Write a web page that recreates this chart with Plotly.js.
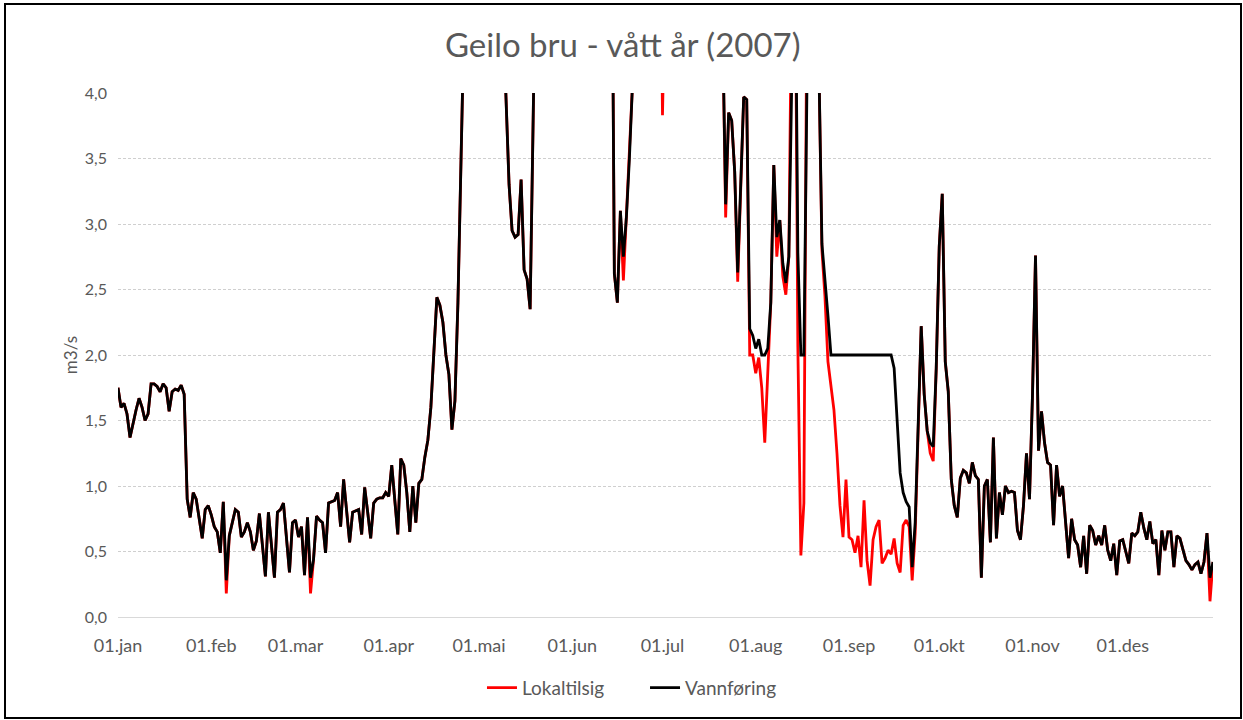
<!DOCTYPE html>
<html>
<head>
<meta charset="utf-8">
<script src="https://cdn.plot.ly/plotly-3.0.1.min.js"></script>
<style>
  html, body { margin:0; padding:0; background:#fff; }
  #plot { width:1243px; height:720px; }
  #frame { position:absolute; left:4px; top:3px; width:1234px; height:712px; border:2px solid #000; pointer-events:none; }
</style>
</head>
<body>
<div id="plot"></div>
<div id="frame"></div>
<script>
// month ticks
const monthStarts = ['2007-01-01','2007-02-01','2007-03-01','2007-04-01','2007-05-01','2007-06-01',
                     '2007-07-01','2007-08-01','2007-09-01','2007-10-01','2007-11-01','2007-12-01'];
const monthLabels = ['01.jan','01.feb','01.mar','01.apr','01.mai','01.jun',
                     '01.jul','01.aug','01.sep','01.okt','01.nov','01.des'];

// daily values 2007 (m3/s), one row per month; values above 4 are off the chart
const vannforing = [
  1.75,1.60,1.63,1.55,1.37,1.48,1.58,1.67,1.60,1.50,1.55,1.78,1.78,1.76,1.72,1.78,1.75,1.57,1.72,1.74,1.73,1.77,1.70,0.90,0.76,0.95,0.90,0.75,0.60,0.82,0.85,
  0.78,0.69,0.65,0.49,0.88,0.28,0.62,0.72,0.82,0.80,0.61,0.65,0.72,0.65,0.51,0.58,0.79,0.55,0.31,0.80,0.55,0.30,0.80,0.82,0.87,0.60,0.34,0.72,
  0.74,0.61,0.69,0.32,0.76,0.30,0.44,0.77,0.74,0.72,0.49,0.87,0.88,0.89,0.95,0.69,1.05,0.80,0.57,0.80,0.81,0.82,0.63,0.99,0.80,0.60,0.87,0.90,0.91,0.91,0.95,
  0.92,1.16,0.90,0.63,1.21,1.16,0.95,0.65,1.00,0.72,1.02,1.05,1.22,1.35,1.60,2.00,2.44,2.38,2.25,2.00,1.85,1.43,1.65,2.40,3.50,6.2,7.4,8.3,9.1,9.6,
  9.8,9.4,8.8,8.0,7.2,6.5,5.8,5.2,4.6,3.95,3.30,2.95,2.90,2.92,3.34,2.65,2.58,2.35,3.60,6.8,8.5,9.7,10.4,11.0,10.6,9.8,10.2,11.5,12.3,11.8,10.9,
  10.5,11.2,12.0,11.4,10.1,9.3,8.6,8.0,7.6,7.2,6.9,6.8,7.0,6.0,2.62,2.40,3.10,2.75,3.05,3.50,4.05,6.5,7.8,8.9,9.6,10.4,9.9,8.7,7.4,6.0,
  5.3,6.1,7.2,8.4,9.5,10.3,11.0,10.6,9.8,9.1,8.3,7.6,7.0,6.6,6.2,6.8,7.5,7.9,7.1,6.0,4.5,3.15,3.85,3.79,3.40,2.63,3.30,3.97,3.95,2.20,2.15,
  2.05,2.12,2.00,2.00,2.05,2.40,3.45,2.90,3.03,2.70,2.55,2.75,5.0,5.5,2.78,2.00,2.00,4.8,7.0,8.0,6.2,4.2,2.85,2.60,2.30,2.00,2.00,2.00,2.00,2.00,2.00,
  2.00,2.00,2.00,2.00,2.00,2.00,2.00,2.00,2.00,2.00,2.00,2.00,2.00,2.00,2.00,1.90,1.45,1.10,0.95,0.88,0.84,0.38,0.72,1.40,2.22,1.70,1.42,1.33,1.30,1.90,
  2.83,3.23,1.95,1.72,1.05,0.85,0.76,1.06,1.12,1.10,1.02,1.18,1.08,1.05,0.30,1.00,1.05,0.57,1.37,0.60,0.95,0.78,1.00,0.95,0.96,0.95,0.66,0.59,0.85,1.25,0.90,
  1.70,2.76,1.27,1.57,1.33,1.18,1.16,0.70,1.16,0.92,1.00,0.75,0.45,0.75,0.59,0.55,0.38,0.62,0.33,0.70,0.66,0.55,0.62,0.55,0.70,0.51,0.43,0.56,0.32,0.58,
  0.59,0.50,0.41,0.64,0.62,0.65,0.80,0.68,0.59,0.73,0.56,0.59,0.32,0.66,0.51,0.65,0.65,0.38,0.62,0.60,0.51,0.43,0.40,0.36,0.40,0.42,0.33,0.42,0.64,0.30,0.42
];

const lokaltilsig = [
  1.75,1.60,1.63,1.55,1.37,1.48,1.58,1.67,1.60,1.50,1.55,1.78,1.78,1.76,1.72,1.78,1.75,1.57,1.72,1.74,1.73,1.77,1.70,0.90,0.76,0.95,0.90,0.75,0.60,0.82,0.85,
  0.78,0.69,0.65,0.49,0.88,0.18,0.62,0.72,0.82,0.80,0.61,0.65,0.72,0.65,0.51,0.58,0.79,0.55,0.31,0.80,0.55,0.30,0.80,0.82,0.87,0.60,0.34,0.72,
  0.74,0.61,0.69,0.32,0.76,0.18,0.44,0.77,0.74,0.72,0.49,0.87,0.88,0.89,0.95,0.69,1.05,0.80,0.57,0.80,0.81,0.82,0.63,0.99,0.80,0.60,0.87,0.90,0.91,0.91,0.95,
  0.92,1.16,0.90,0.63,1.21,1.16,0.95,0.65,1.00,0.72,1.02,1.05,1.22,1.35,1.60,2.00,2.44,2.38,2.25,2.00,1.85,1.43,1.65,2.40,3.50,6.2,7.4,8.3,9.1,9.6,
  9.8,9.4,8.8,8.0,7.2,6.5,5.8,5.2,4.6,3.95,3.30,2.95,2.90,2.92,3.34,2.65,2.58,2.35,3.60,6.8,8.5,9.7,10.4,11.0,10.6,9.8,10.2,11.5,12.3,11.8,10.9,
  10.5,11.2,12.0,11.4,10.1,9.3,8.6,8.0,7.6,7.2,6.9,6.8,7.0,6.0,2.62,2.40,3.10,2.57,3.05,3.50,4.05,6.5,7.8,8.9,9.6,10.4,9.9,8.7,7.4,6.0,
  3.83,6.1,7.2,8.4,9.5,10.3,11.0,10.6,9.8,9.1,8.3,7.6,7.0,6.6,6.2,6.8,7.5,7.9,7.1,6.0,4.5,3.05,3.85,3.79,3.40,2.56,3.30,3.97,3.95,2.00,2.00,
  1.86,1.98,1.75,1.33,1.85,2.40,3.45,2.75,3.03,2.60,2.46,2.75,5.0,5.5,2.06,0.47,0.87,4.8,7.0,8.0,6.2,4.2,2.80,2.45,1.95,1.75,1.58,1.25,0.85,0.61,1.05,
  0.61,0.59,0.49,0.62,0.38,0.89,0.43,0.24,0.59,0.69,0.74,0.41,0.45,0.51,0.48,0.60,0.41,0.34,0.70,0.74,0.69,0.28,0.64,1.40,2.22,1.70,1.42,1.25,1.19,1.90,
  2.83,3.23,1.95,1.72,1.05,0.85,0.76,1.06,1.12,1.10,1.02,1.18,1.08,1.05,0.30,1.00,1.05,0.57,1.37,0.60,0.95,0.78,1.00,0.95,0.96,0.95,0.66,0.59,0.85,1.25,0.90,
  1.70,2.76,1.27,1.57,1.33,1.18,1.16,0.70,1.16,0.92,1.00,0.75,0.45,0.75,0.59,0.55,0.38,0.62,0.33,0.70,0.66,0.55,0.62,0.55,0.70,0.51,0.43,0.56,0.32,0.58,
  0.59,0.50,0.41,0.64,0.62,0.65,0.80,0.68,0.59,0.73,0.56,0.59,0.32,0.66,0.51,0.65,0.65,0.38,0.62,0.60,0.51,0.43,0.40,0.36,0.40,0.42,0.33,0.42,0.64,0.12,0.42
];

// one date per day of 2007
const dates = [];
for (let i = 0; i < 365; i++) {
  dates.push(new Date(Date.UTC(2007, 0, 1 + i)).toISOString().slice(0, 10));
}

const data = [
  { x:dates, y:lokaltilsig, name:'Lokaltilsig', type:'scatter', mode:'lines',
    line:{ color:'#ff0000', width:2.8 }, legend:'legend' },
  { x:dates, y:vannforing, name:'Vannføring', type:'scatter', mode:'lines',
    line:{ color:'#000000', width:2.8 }, legend:'legend2' }
];

const legendStyle = { orientation:'h', xanchor:'left', y:-0.135, yanchor:'middle',
                      font:{ size:19 }, bgcolor:'rgba(0,0,0,0)' };

const layout = {
  width:1243, height:720,
  margin:{ l:118, r:30, t:93, b:103 },
  paper_bgcolor:'#ffffff', plot_bgcolor:'#ffffff',
  separators:',.',
  font:{ family:'Lato, "Open Sans", sans-serif', size:16, color:'#595959' },
  title:{ text:'Geilo bru - vått år (2007)', font:{ size:33, color:'#595959' },
          xref:'container', x:0.501, yref:'container', y:0.9375, yanchor:'middle' },
  xaxis:{ type:'date', range:['2007-01-01','2007-12-31'],
          tickvals:monthStarts, ticktext:monthLabels,
          showgrid:false, zeroline:false, showline:true, linecolor:'#d9d9d9', linewidth:1,
          ticks:'', ticklabelstandoff:12, tickfont:{ size:18 } },
  yaxis:{ range:[0,4], tick0:0, dtick:0.5, tickformat:'.1f',
          showgrid:true, gridcolor:'#cfcfcf', griddash:'3px,2px', zeroline:false,
          ticks:'', ticklabelstandoff:10, tickfont:{ size:16 },
          title:{ text:'m3/s', font:{ size:17 }, standoff:2 } },
  showlegend:true,
  legend:Object.assign({ x:0.3324 }, legendStyle),
  legend2:Object.assign({ x:0.4813 }, legendStyle)
};

Plotly.newPlot('plot', data, layout, { displayModeBar:false, staticPlot:true });
</script>
</body>
</html>
